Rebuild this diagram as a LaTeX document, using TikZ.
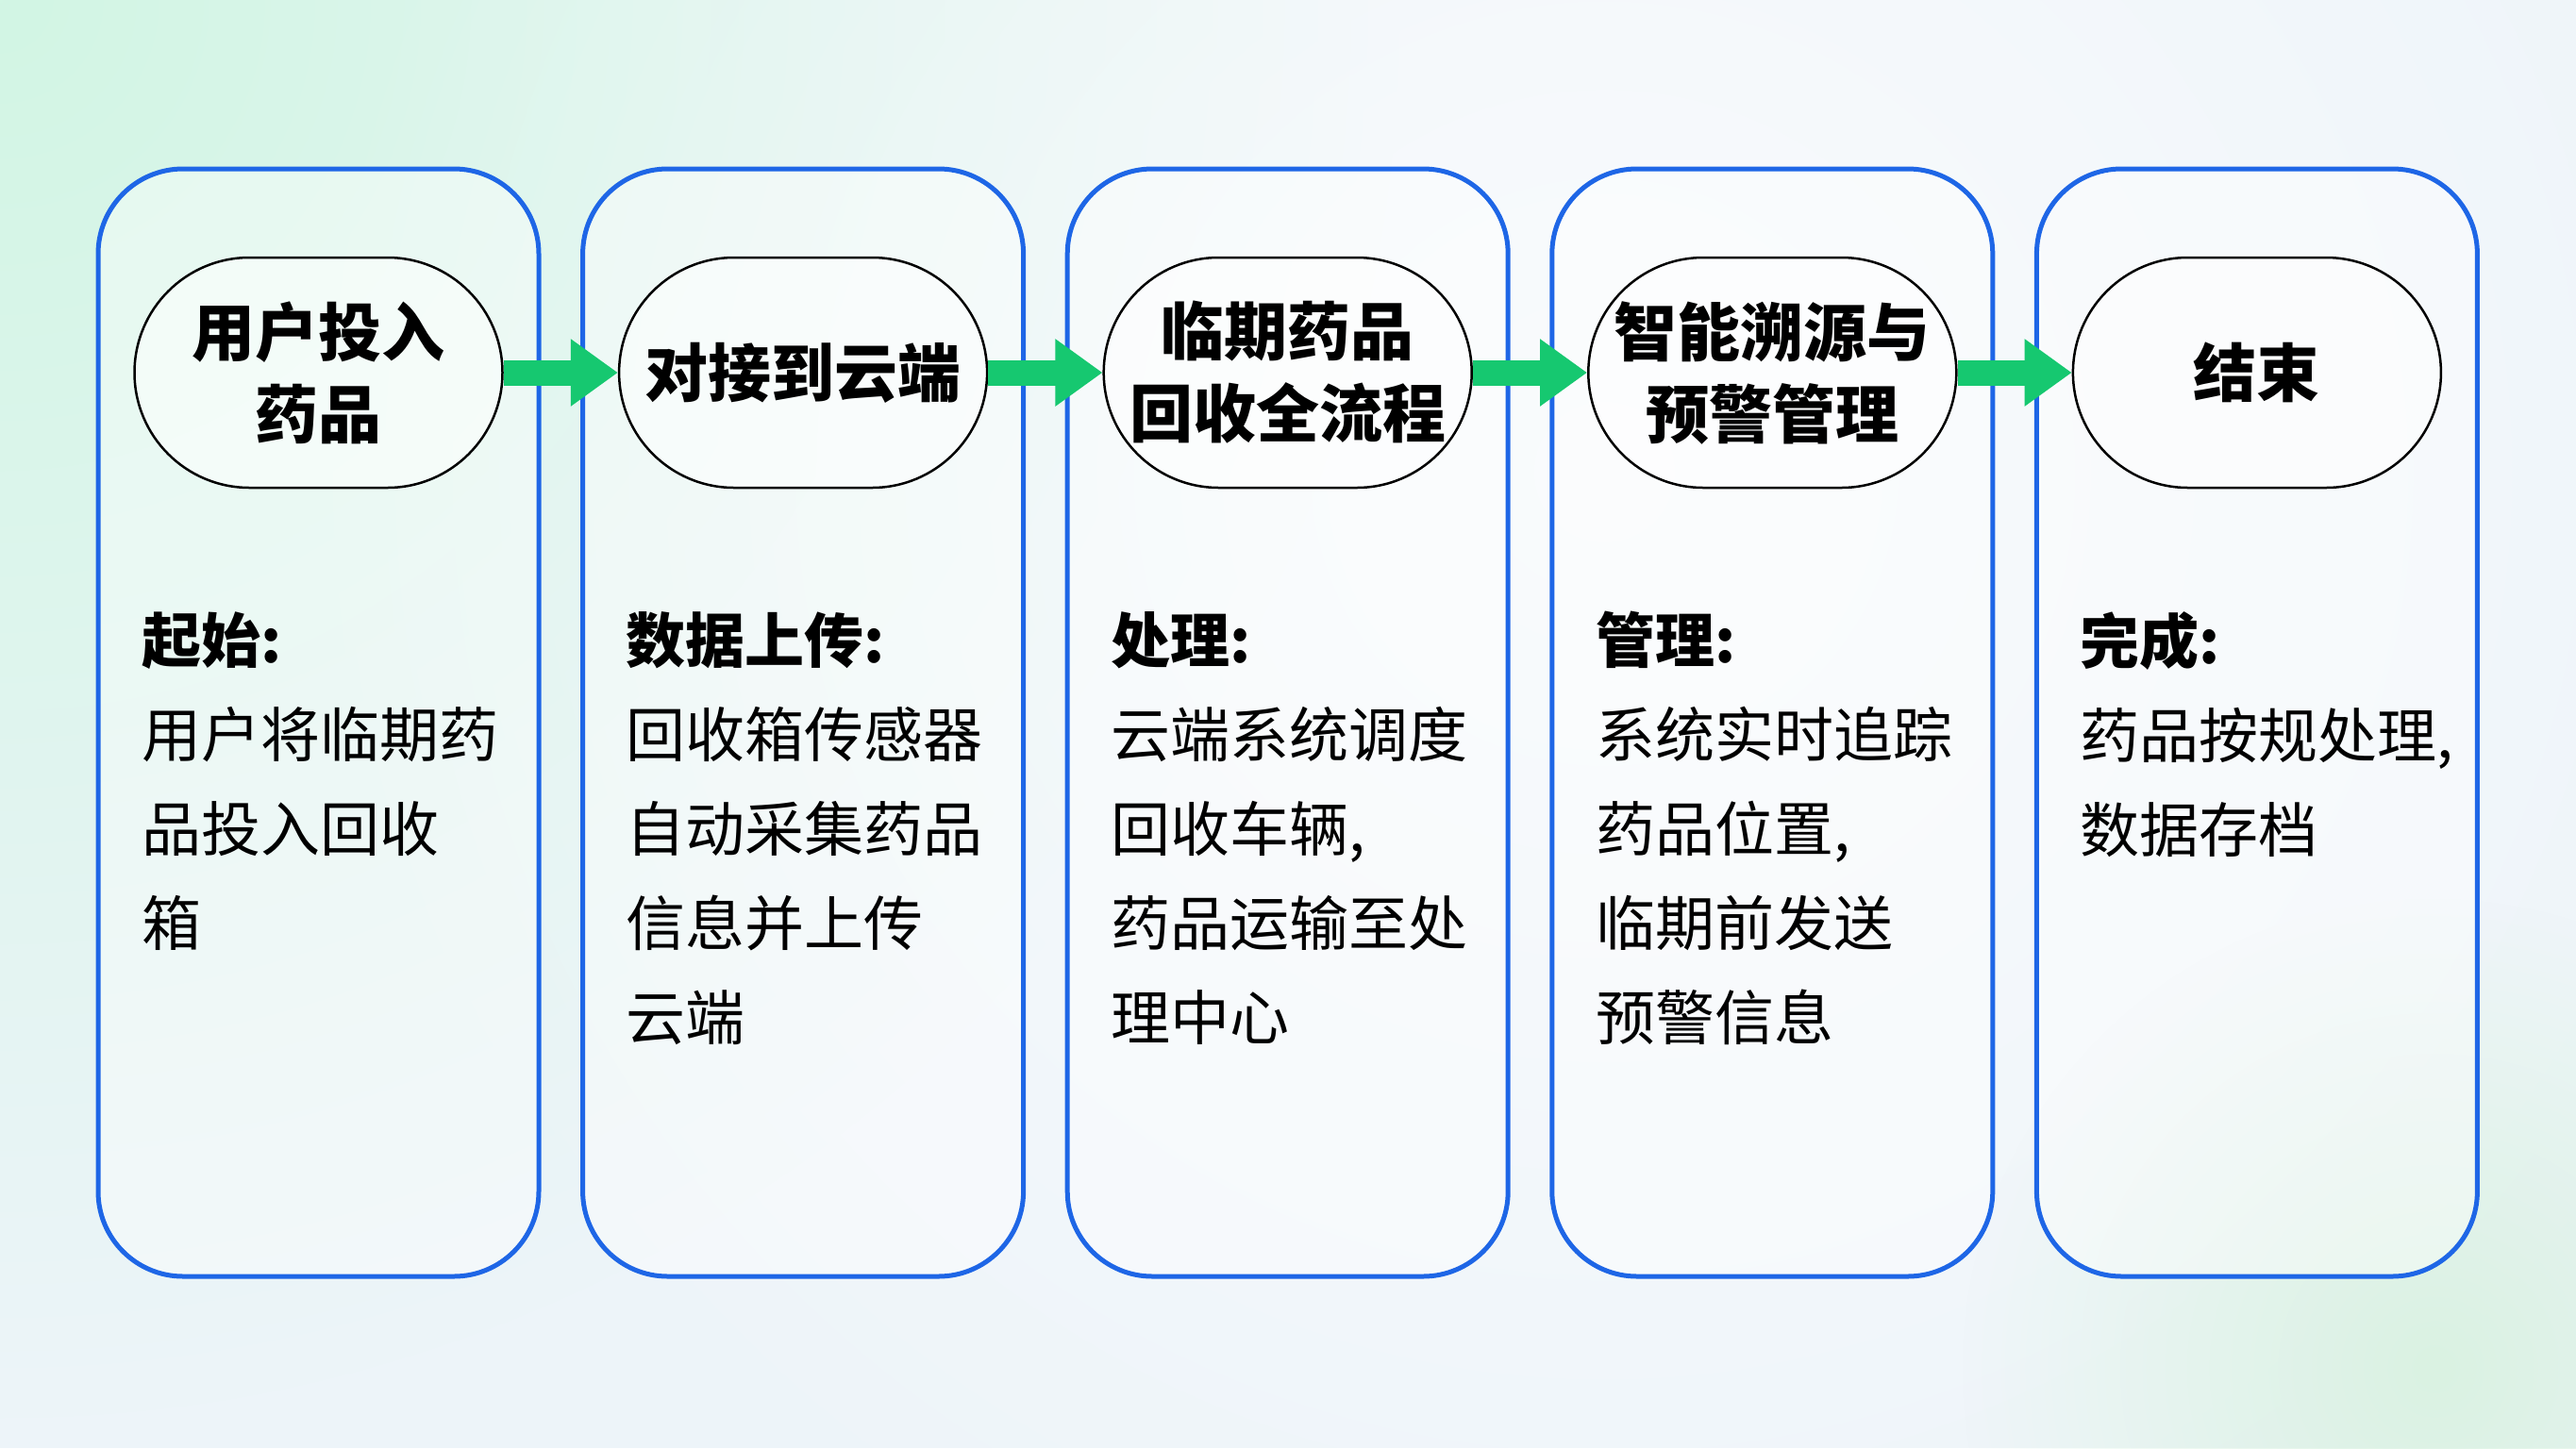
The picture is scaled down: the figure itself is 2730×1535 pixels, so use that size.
\documentclass[tikz,border=0pt]{standalone}
\usepackage{fontspec}
\setmainfont{Noto Sans CJK SC}
\usetikzlibrary{shapes.misc,arrows.meta,fadings}
\definecolor{bgbase}{RGB}{237,244,249}
\definecolor{mintglow}{RGB}{210,246,228}
\definecolor{brglow}{RGB}{218,242,226}
\definecolor{boxblue}{RGB}{30,102,230}
\definecolor{flowgreen}{RGB}{22,200,112}
\tikzfading[name=glowfade, inner color=transparent!0, outer color=transparent!100]
\begin{document}
\begin{tikzpicture}[x=1pt,y=-1pt,
  colbox/.style={draw=boxblue, line width=5pt, rounded corners=90pt,
    minimum width=467pt, minimum height=1174pt, fill=white, fill opacity=0.4,
    draw opacity=1, inner sep=0pt},
  head/.style={rounded rectangle, draw=black, line width=2.5pt,
    minimum width=390pt, minimum height=244pt, fill=white, fill opacity=0.5,
    text opacity=1, draw opacity=1, align=center, inner sep=0pt,
    font=\fontsize{67}{87}\selectfont\bfseries},
  desc/.style={anchor=north west, align=left, inner sep=0pt,
    font=\fontsize{63}{100}\selectfont},
  flow/.style={draw=flowgreen, line width=27pt,
    -{Triangle[length=50pt,width=68pt]}}
]
\useasboundingbox (0,0) rectangle (2730,1535);
\begin{scope}
  \clip (0,0) rectangle (2730,1535);
  \fill[bgbase] (0,0) rectangle (2730,1535);
  \fill[mintglow, path fading=glowfade] (0,0) circle (1500);
  \fill[white, path fading=glowfade, fill opacity=0.7] (1700,500) circle (1400);
  \fill[brglow, path fading=glowfade] (2580,1450) circle (500);
\end{scope}

\foreach \i in {1,...,5} {
  \node[colbox] (box\i) at ({337.5+513.6*(\i-1)},766) {};
}

\node[head] (h1) at (337.5,395) {用户投入\\药品};
\node[head] (h2) at (851.1,395) {对接到云端};
\node[head] (h3) at (1364.7,395) {临期药品\\回收全流程};
\node[head] (h4) at (1878.3,395) {智能溯源与\\预警管理};
\node[head] (h5) at (2391.9,395) {结束};

\draw[flow] (h1.east) -- (h2.west);
\draw[flow] (h2.east) -- (h3.west);
\draw[flow] (h3.east) -- (h4.west);
\draw[flow] (h4.east) -- (h5.west);

\node[desc] (d1) at (150,648) {\textbf{起始:}\\用户将临期药\\品投入回收\\箱};
\node[desc] (d2) at (663.6,648) {\textbf{数据上传:}\\回收箱传感器\\自动采集药品\\信息并上传\\云端};
\node[desc] (d3) at (1177.2,648) {\textbf{处理:}\\云端系统调度\\回收车辆,\\药品运输至处\\理中心};
\node[desc] (d4) at (1690.8,648) {\textbf{管理:}\\系统实时追踪\\药品位置,\\临期前发送\\预警信息};
\node[desc] (d5) at (2204.4,648) {\textbf{完成:}\\药品按规处理,\\数据存档};
\end{tikzpicture}
\end{document}
